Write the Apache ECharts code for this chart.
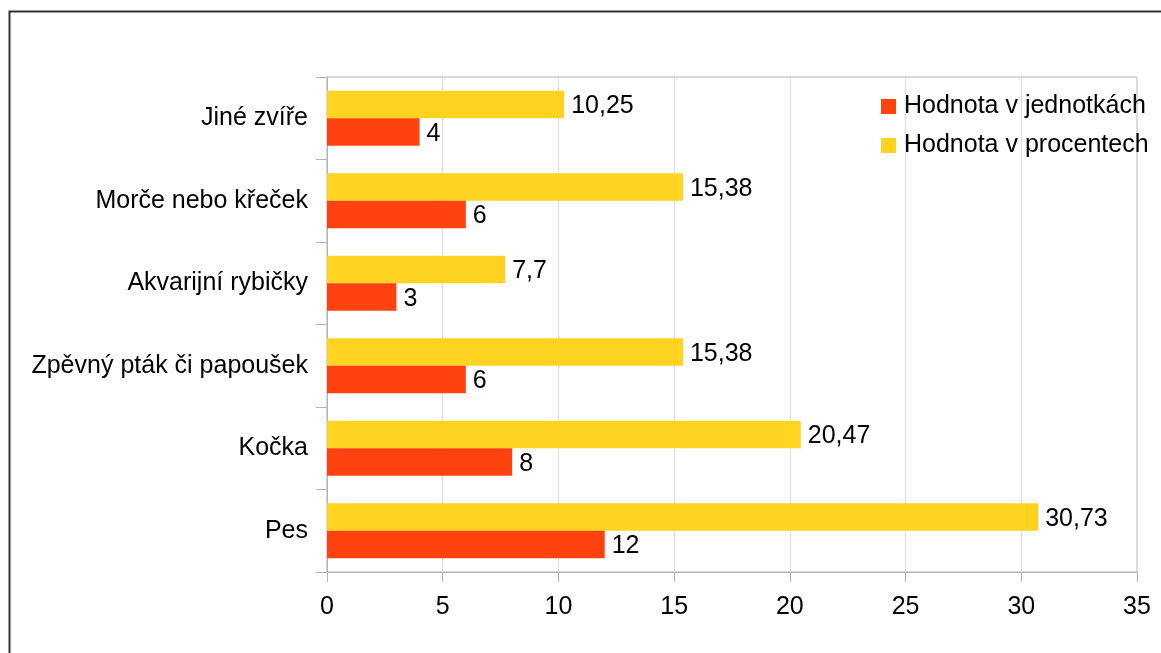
<!DOCTYPE html>
<html>
<head>
<meta charset="utf-8">
<script src="https://cdn.jsdelivr.net/npm/echarts@6/dist/echarts.min.js"></script>
<style>
html,body{margin:0;padding:0;background:#fff;}
#c{width:1161px;height:653px;}
</style>
</head>
<body>
<div id="c"></div>
<script>
const categories = ['Pes', 'Kočka', 'Zpěvný pták či papoušek', 'Akvarijní rybičky', 'Morče nebo křeček', 'Jiné zvíře'];
const unitValues = [12, 8, 6, 3, 6, 4];
const percentValues = [30.73, 20.47, 15.38, 7.7, 15.38, 10.25];
const seriesNames = ['Hodnota v jednotkách', 'Hodnota v procentech'];
const xTicks = [0, 35, 5];

const FONT = '"Liberation Sans", Arial, sans-serif';
const FS = 25;
const fmt = p => String(p.value).replace('.', ',');

const chart = echarts.init(document.getElementById('c'), null, {renderer: 'canvas'});
chart.setOption({
  animation: false,
  backgroundColor: '#fff',
  textStyle: {fontFamily: FONT},
  graphic: [{
    type: 'rect', left: 7, top: 9, z: -1,
    shape: {width: 1300, height: 800},
    style: {fill: 'none', stroke: '#333', lineWidth: 2}
  }],
  grid: {left: 327, right: 24, top: 77, bottom: 81, show: true, borderColor: '#b3b3b3', borderWidth: 1, containLabel: false},
  legend: {
    orient: 'vertical', left: 876, top: 89,
    data: seriesNames,
    itemWidth: 15, itemHeight: 15, itemGap: 14,
    icon: 'rect',
    textStyle: {fontFamily: FONT, fontSize: FS, color: '#000', padding: [0, 0, 0, 3]}
  },
  xAxis: {
    type: 'value', min: xTicks[0], max: xTicks[1], interval: xTicks[2],
    axisLine: {show: true, lineStyle: {color: '#b3b3b3'}},
    axisTick: {show: true, length: 10, lineStyle: {color: '#b3b3b3'}},
    splitLine: {show: true, lineStyle: {color: '#dddddd'}},
    axisLabel: {margin: 23, fontFamily: FONT, fontSize: FS, color: '#000'}
  },
  yAxis: {
    type: 'category', data: categories,
    axisLine: {show: true, lineStyle: {color: '#b3b3b3'}},
    axisTick: {show: true, length: 11, lineStyle: {color: '#b3b3b3'}},
    axisLabel: {margin: 19, fontFamily: FONT, fontSize: FS, color: '#000', padding: [4, 0, 0, 0]}
  },
  series: [
    {
      name: seriesNames[1], type: 'bar', data: percentValues,
      itemStyle: {color: '#ffd320'},
      barGap: '0%', barCategoryGap: '33.3%',
      label: {show: true, position: 'right', distance: 7, offset: [0, 2], formatter: fmt, fontFamily: FONT, fontSize: FS, color: '#000'}
    },
    {
      name: seriesNames[0], type: 'bar', data: unitValues,
      itemStyle: {color: '#ff420e'},
      barGap: '0%', barCategoryGap: '33.3%',
      label: {show: true, position: 'right', distance: 7, offset: [0, 2], formatter: fmt, fontFamily: FONT, fontSize: FS, color: '#000'}
    }
  ]
});
</script>
</body>
</html>
